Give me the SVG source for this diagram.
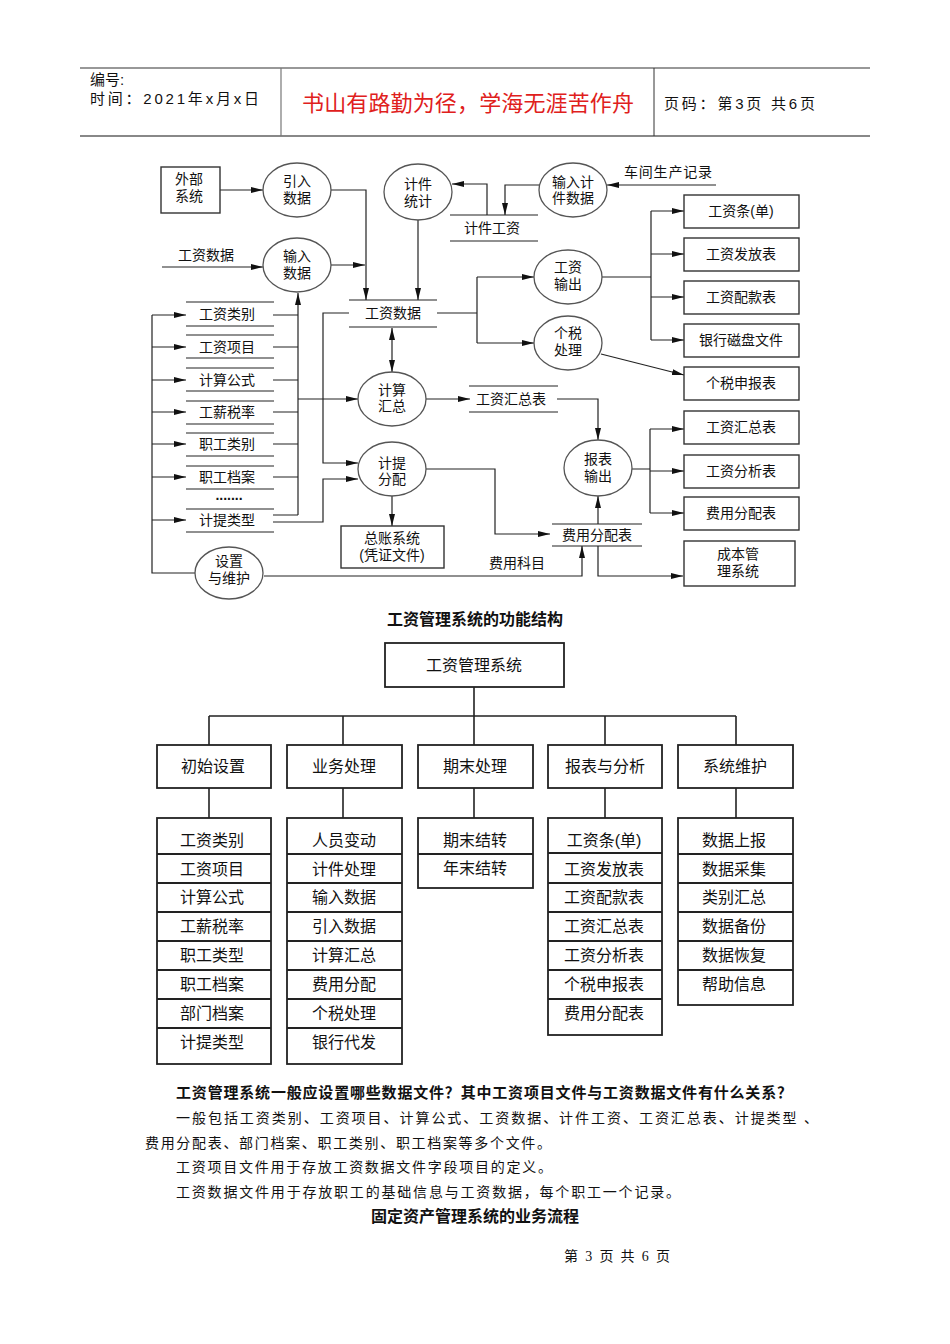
<svg xmlns="http://www.w3.org/2000/svg" width="950" height="1344" viewBox="0 0 950 1344">
<defs>
<style>
text{font-family:"Liberation Sans","Noto Sans CJK SC",sans-serif;fill:#111}
.s{font-size:14px;text-anchor:middle}
.t{font-size:16px;text-anchor:middle}
.b{font-size:14px;font-family:"Liberation Serif","Noto Sans CJK SC",serif}
.ln{fill:none;stroke:#222;stroke-width:1.2}
.el{fill:#fff;stroke:#555;stroke-width:1.3}
.bx{fill:#fff;stroke:#333;stroke-width:1.4}
.tb{fill:#fff;stroke:#222;stroke-width:1.8}
.ar{marker-end:url(#a)}
</style>
<marker id="a" markerWidth="12" markerHeight="8" refX="12" refY="4" orient="auto-start-reverse" markerUnits="userSpaceOnUse"><path d="M0,1 L12,4 L0,7 z" fill="#111"/></marker>
</defs>
<rect width="950" height="1344" fill="#fff"/>

<g id="header">
<line x1="80" y1="68" x2="870" y2="68" stroke="#333" stroke-width="1.2"/>
<line x1="80" y1="136" x2="870" y2="136" stroke="#888" stroke-width="2"/>
<line x1="281" y1="68" x2="281" y2="136" stroke="#777" stroke-width="1.2"/>
<line x1="654" y1="68" x2="654" y2="136" stroke="#333" stroke-width="1"/>
<text x="90" y="85" font-size="15">编号:</text>
<text x="90" y="104" font-size="15" textLength="169">时间：2021年x月x日</text>
<text x="468" y="111" font-size="22" text-anchor="middle" style="fill:#e0201c" textLength="332">书山有路勤为径，学海无涯苦作舟</text>
<text x="664" y="109" font-size="15" textLength="151">页码：第3页 共6页</text>
</g>

<g id="connectors">
<path class="ln ar" d="M220,190 H263"/>
<path class="ln ar" d="M162,267 H263"/>
<path class="ln ar" d="M331,190 H366 V300"/>
<path class="ln ar" d="M331,265 H365"/>
<path class="ln ar" d="M418,220 V300"/>
<path class="ln ar" d="M539,185 H505 V215"/>
<path class="ln ar" d="M487,215 V184 H452"/>
<path class="ln ar" d="M716,185 H607"/>
<path class="ln" d="M437,313 H477 M477,277 V343"/>
<path class="ln ar" d="M477,277 H534"/>
<path class="ln ar" d="M477,343 H534"/>
<path class="ln" d="M602,277 H651 M651,211 V340"/>
<path class="ln ar" d="M651,211 H684"/>
<path class="ln ar" d="M651,254 H684"/>
<path class="ln ar" d="M651,297 H684"/>
<path class="ln ar" d="M651,340 H684"/>
<path class="ln ar" d="M601,354 L684,375"/>
<path class="ln ar" d="M392,328 V372" marker-start="url(#a)"/>
<path class="ln ar" d="M426,399 H470"/>
<path class="ln ar" d="M557,399 H598 V440"/>
<path class="ln" d="M632,469 H650 M650,429 V513"/>
<path class="ln ar" d="M650,429 H684"/>
<path class="ln ar" d="M650,471 H684"/>
<path class="ln ar" d="M650,513 H684"/>
<path class="ln ar" d="M598,524 V496"/>
<path class="ln ar" d="M426,469 H495 V534 H550"/>
<path class="ln ar" d="M264,576 H582 V546"/>
<path class="ln ar" d="M598,546 V576 H683"/>
<path class="ln" d="M196,573 H152 V315"/>
<path class="ln ar" d="M152,315 H186"/>
<path class="ln ar" d="M152,347 H186"/>
<path class="ln ar" d="M152,380 H186"/>
<path class="ln ar" d="M152,412 H186"/>
<path class="ln ar" d="M152,444 H186"/>
<path class="ln ar" d="M152,477 H186"/>
<path class="ln ar" d="M152,520 H186"/>
<path class="ln" d="M273,315 H298 M273,347 H298 M273,380 H298 M273,412 H298 M273,444 H298 M273,477 H298 M273,515 H298"/>
<path class="ln ar" d="M298,515 V293"/>
<path class="ln ar" d="M298,399 H358"/>
<path class="ln ar" d="M273,522 H323 V479 H358"/>
<path class="ln ar" d="M349,313 H323 V463 H358"/>
<path class="ln ar" d="M392,496 V526"/>
</g>

<g id="stores">
<g id="s-jjgz"><path class="ln" d="M450,215 H538 M450,241 H538"/><text class="s" x="492" y="233">计件工资</text></g>
<g id="s-gzsj"><path class="ln" d="M349,300 H437 M349,327 H437"/><text class="s" x="393" y="318">工资数据</text></g>
<g id="s-gzhzb"><path class="ln" d="M469,386 H558 M469,412 H558"/><text class="s" x="511" y="404">工资汇总表</text></g>
<g id="s-fyfpb"><path class="ln" d="M552,524 H642 M552,546 H642"/><text class="s" x="597" y="540">费用分配表</text></g>
<g id="s-gzlb"><path class="ln" d="M186,302 H274 M186,326 H274"/><text class="s" x="227" y="319">工资类别</text></g>
<g id="s-gzxm"><path class="ln" d="M186,335 H274 M186,358 H274"/><text class="s" x="227" y="352">工资项目</text></g>
<g id="s-jsgs"><path class="ln" d="M186,368 H274 M186,391 H274"/><text class="s" x="227" y="385">计算公式</text></g>
<g id="s-gxsl"><path class="ln" d="M186,401 H274 M186,424 H274"/><text class="s" x="227" y="417">工薪税率</text></g>
<g id="s-zglb"><path class="ln" d="M186,433 H274 M186,456 H274"/><text class="s" x="227" y="449">职工类别</text></g>
<g id="s-zgda"><path class="ln" d="M186,466 H274 M186,489 H274"/><text class="s" x="227" y="482">职工档案</text></g>
<text class="s" x="229" y="500" font-weight="bold">.......</text>
<g id="s-jtlx"><path class="ln" d="M186,509 H274 M186,532 H274"/><text class="s" x="227" y="525">计提类型</text></g>
</g>

<g id="ext-wbxt"><rect class="bx" x="161" y="167" width="59" height="46"/><text x="175" y="184" font-size="14">外部</text><text x="175" y="201" font-size="14">系统</text></g>
<text x="178" y="260" font-size="14">工资数据</text>
<text x="624" y="177" font-size="14" textLength="88">车间生产记录</text>
<text x="489" y="568" font-size="14">费用科目</text>

<g id="p-yrsj"><ellipse class="el" cx="297" cy="190" rx="34" ry="27"/><text class="s" x="297" y="186">引入</text><text class="s" x="297" y="203">数据</text></g>
<g id="p-jjtj"><ellipse class="el" cx="418" cy="192" rx="34" ry="28"/><text class="s" x="418" y="189">计件</text><text class="s" x="418" y="206">统计</text></g>
<g id="p-srjjsj"><ellipse class="el" cx="573" cy="190" rx="34" ry="27"/><text class="s" x="573" y="187">输入计</text><text class="s" x="573" y="203">件数据</text></g>
<g id="p-srsj"><ellipse class="el" cx="297" cy="265" rx="34" ry="27"/><text class="s" x="297" y="261">输入</text><text class="s" x="297" y="278">数据</text></g>
<g id="p-gzsc"><ellipse class="el" cx="568" cy="277" rx="34" ry="27"/><text class="s" x="568" y="272">工资</text><text class="s" x="568" y="289">输出</text></g>
<g id="p-gscl"><ellipse class="el" cx="568" cy="343" rx="34" ry="27"/><text class="s" x="568" y="338">个税</text><text class="s" x="568" y="355">处理</text></g>
<g id="p-jshz"><ellipse class="el" cx="392" cy="399" rx="34" ry="27"/><text class="s" x="392" y="395">计算</text><text class="s" x="392" y="411">汇总</text></g>
<g id="p-jtfp"><ellipse class="el" cx="392" cy="469" rx="34" ry="27"/><text class="s" x="392" y="468">计提</text><text class="s" x="392" y="484">分配</text></g>
<g id="p-bbsc"><ellipse class="el" cx="598" cy="468" rx="34" ry="28"/><text class="s" x="598" y="464">报表</text><text class="s" x="598" y="481">输出</text></g>
<g id="p-szwh"><ellipse class="el" cx="229" cy="573" rx="34" ry="26"/><text class="s" x="229" y="566">设置</text><text class="s" x="229" y="583">与维护</text></g>
<g id="e-zzxt"><rect class="bx" x="341" y="526" width="103" height="42"/><text class="s" x="392" y="543">总账系统</text><text class="s" x="392" y="560">(凭证文件)</text></g>

<g id="o-gzt"><rect class="bx" x="684" y="195" width="115" height="33"/><text class="s" x="741" y="216">工资条(单)</text></g>
<g id="o-gzffb"><rect class="bx" x="684" y="238" width="115" height="33"/><text class="s" x="741" y="259">工资发放表</text></g>
<g id="o-gzpkb"><rect class="bx" x="684" y="281" width="115" height="33"/><text class="s" x="741" y="302">工资配款表</text></g>
<g id="o-yhcp"><rect class="bx" x="684" y="324" width="115" height="33"/><text class="s" x="741" y="345">银行磁盘文件</text></g>
<g id="o-gssbb"><rect class="bx" x="684" y="367" width="115" height="33"/><text class="s" x="741" y="388">个税申报表</text></g>
<g id="o-gzhzb"><rect class="bx" x="684" y="411" width="115" height="33"/><text class="s" x="741" y="432">工资汇总表</text></g>
<g id="o-gzfxb"><rect class="bx" x="684" y="455" width="115" height="33"/><text class="s" x="741" y="476">工资分析表</text></g>
<g id="o-fyfpb"><rect class="bx" x="684" y="497" width="115" height="33"/><text class="s" x="741" y="518">费用分配表</text></g>
<g id="o-cbgl"><rect class="bx" x="684" y="541" width="111" height="45"/><text class="s" x="738" y="559">成本管</text><text class="s" x="738" y="576">理系统</text></g>

<text x="475" y="625" font-size="16" font-weight="bold" text-anchor="middle">工资管理系统的功能结构</text>

<g id="tree-lines">
<path fill="none" stroke="#222" stroke-width="1.6" d="M474,687 V716 M209,716 H736 M209,716 V745 M343,716 V745 M474,716 V745 M605,716 V745 M736,716 V745 M209,788 V818 M343,788 V818 M474,788 V818 M605,788 V818 M736,788 V818"/>
</g>
<g id="t-root"><rect class="tb" x="385" y="643" width="179" height="44"/><text class="t" x="474" y="671">工资管理系统</text></g>
<g id="t-cssz"><rect class="tb" x="157" y="745" width="114" height="43"/><text class="t" x="213" y="772">初始设置</text></g>
<g id="t-ywcl"><rect class="tb" x="287" y="745" width="115" height="43"/><text class="t" x="344" y="772">业务处理</text></g>
<g id="t-qmcl"><rect class="tb" x="418" y="745" width="115" height="43"/><text class="t" x="475" y="772">期末处理</text></g>
<g id="t-bbfx"><rect class="tb" x="548" y="745" width="114" height="43"/><text class="t" x="605" y="772">报表与分析</text></g>
<g id="t-xtwh"><rect class="tb" x="678" y="745" width="115" height="43"/><text class="t" x="735" y="772">系统维护</text></g>

<g id="t-cssz-list">
<rect class="tb" x="157" y="818" width="114" height="246"/>
<path stroke="#222" stroke-width="1.8" d="M157,854 H271 M157,883 H271 M157,912 H271 M157,941 H271 M157,970 H271 M157,999 H271 M157,1028 H271"/>
<text class="t" x="212" y="846">工资类别</text><text class="t" x="212" y="875">工资项目</text><text class="t" x="212" y="903">计算公式</text><text class="t" x="212" y="932">工薪税率</text><text class="t" x="212" y="961">职工类型</text><text class="t" x="212" y="990">职工档案</text><text class="t" x="212" y="1019">部门档案</text><text class="t" x="212" y="1048">计提类型</text>
</g>
<g id="t-ywcl-list">
<rect class="tb" x="287" y="818" width="115" height="246"/>
<path stroke="#222" stroke-width="1.8" d="M287,854 H402 M287,883 H402 M287,912 H402 M287,941 H402 M287,970 H402 M287,999 H402 M287,1028 H402"/>
<text class="t" x="344" y="846">人员变动</text><text class="t" x="344" y="875">计件处理</text><text class="t" x="344" y="903">输入数据</text><text class="t" x="344" y="932">引入数据</text><text class="t" x="344" y="961">计算汇总</text><text class="t" x="344" y="990">费用分配</text><text class="t" x="344" y="1019">个税处理</text><text class="t" x="344" y="1048">银行代发</text>
</g>
<g id="t-qmcl-list">
<rect class="tb" x="418" y="818" width="115" height="70"/>
<path stroke="#222" stroke-width="1.8" d="M418,854 H533"/>
<text class="t" x="475" y="846">期末结转</text><text class="t" x="475" y="874">年末结转</text>
</g>
<g id="t-bbfx-list">
<rect class="tb" x="548" y="818" width="114" height="217"/>
<path stroke="#222" stroke-width="1.8" d="M548,853 H662 M548,883 H662 M548,912 H662 M548,941 H662 M548,970 H662 M548,999 H662"/>
<text class="t" x="604" y="846">工资条(单)</text><text class="t" x="604" y="875">工资发放表</text><text class="t" x="604" y="903">工资配款表</text><text class="t" x="604" y="932">工资汇总表</text><text class="t" x="604" y="961">工资分析表</text><text class="t" x="604" y="990">个税申报表</text><text class="t" x="604" y="1019">费用分配表</text>
</g>
<g id="t-xtwh-list">
<rect class="tb" x="678" y="818" width="115" height="187"/>
<path stroke="#222" stroke-width="1.8" d="M678,854 H793 M678,883 H793 M678,912 H793 M678,941 H793 M678,970 H793"/>
<text class="t" x="734" y="846">数据上报</text><text class="t" x="734" y="875">数据采集</text><text class="t" x="734" y="903">类别汇总</text><text class="t" x="734" y="932">数据备份</text><text class="t" x="734" y="961">数据恢复</text><text class="t" x="734" y="990">帮助信息</text>
</g>

<g id="body">
<text x="176" y="1098" font-size="15" font-weight="bold" textLength="616">工资管理系统一般应设置哪些数据文件？其中工资项目文件与工资数据文件有什么关系？</text>
<text class="b" x="176" y="1123" textLength="642">一般包括工资类别、工资项目、计算公式、工资数据、计件工资、工资汇总表、计提类型 、</text>
<text class="b" x="145" y="1148" textLength="406">费用分配表、部门档案、职工类别、职工档案等多个文件。</text>
<text class="b" x="176" y="1172" textLength="376">工资项目文件用于存放工资数据文件字段项目的定义。</text>
<text class="b" x="176" y="1197" textLength="504">工资数据文件用于存放职工的基础信息与工资数据，每个职工一个记录。</text>
<text x="475" y="1222" font-size="16" font-weight="bold" text-anchor="middle">固定资产管理系统的业务流程</text>
<text class="b" x="564" y="1261" font-size="13" textLength="106">第 3 页 共 6 页</text>
</g>
</svg>
